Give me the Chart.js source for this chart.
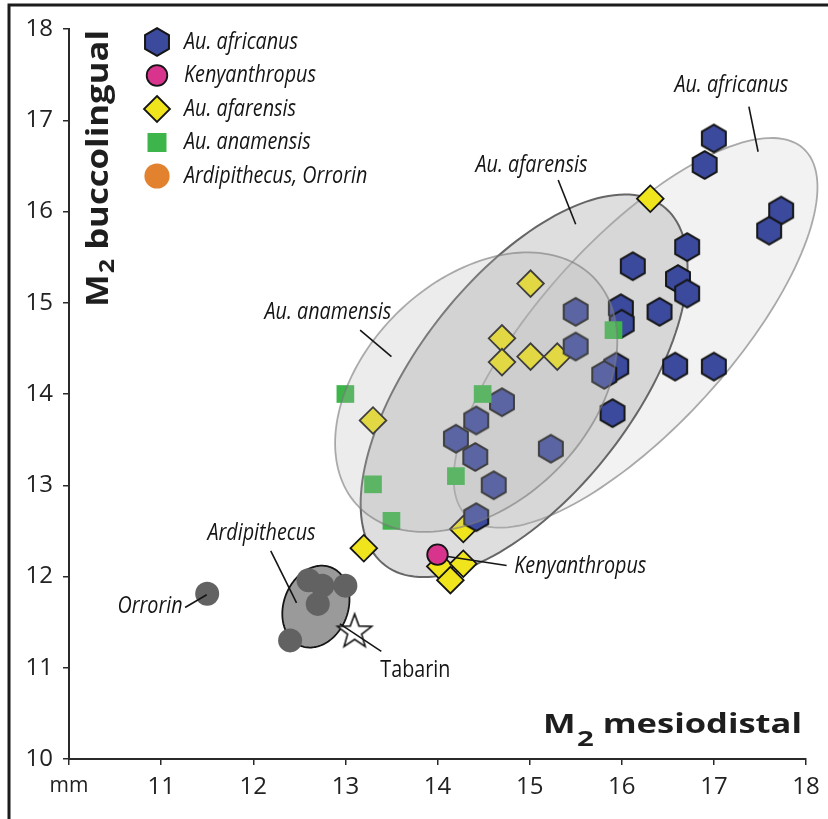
<!DOCTYPE html>
<html>
<head>
<meta charset="utf-8">
<title>M2 buccolingual vs mesiodistal</title>
<script src="https://cdn.jsdelivr.net/npm/chart.js@4.4.1/dist/chart.umd.min.js"></script>
<style>
  html, body { margin: 0; padding: 0; background: #fff; }
  #wrap { width: 828px; height: 819px; }
</style>
</head>
<body>
<div id="wrap"><canvas id="chart" width="828" height="819"></canvas></div>
<script>
// ==========================================
// VALUES (mm)
// ==========================================
const africanusX = [17.00, 16.90, 17.73, 17.60, 16.71, 16.12, 16.61, 16.71, 15.50, 15.99, 16.00, 16.41, 15.50,
                    15.94, 15.81, 16.58, 17.00, 14.70, 14.42, 14.20, 14.41, 15.23, 15.90, 14.61, 14.42];
const africanusY = [16.80, 16.51, 16.01, 15.79, 15.61, 15.40, 15.26, 15.10, 14.90, 14.94, 14.77, 14.90, 14.52,
                    14.30, 14.21, 14.30, 14.30, 13.91, 13.71, 13.51, 13.31, 13.40, 13.79, 13.00, 12.65];

const afarensisX = [16.31, 15.01, 14.70, 14.70, 15.01, 15.30, 13.30, 14.28, 13.20, 14.03, 14.28, 14.14];
const afarensisY = [16.14, 15.21, 14.61, 14.35, 14.41, 14.41, 13.71, 12.52, 12.31, 12.11, 12.14, 11.96];

const anamensisX = [13.00, 14.49, 13.30, 14.20, 13.50, 15.91];
const anamensisY = [14.00, 14.00, 13.01, 13.10, 12.61, 14.70];

const kenyanthropusX = [14.00];
const kenyanthropusY = [12.24];

// first point is Orrorin, the rest Ardipithecus
const ardiOrrorinX = [11.50, 12.60, 12.75, 13.00, 12.70, 12.40];
const ardiOrrorinY = [11.81, 11.96, 11.90, 11.90, 11.70, 11.30];

const tabarinX = [13.10];
const tabarinY = [11.41];

const xTickValues = [10, 11, 12, 13, 14, 15, 16, 17, 18];
const xTickLabels = ['mm', '11', '12', '13', '14', '15', '16', '17', '18'];
const yTickLabels = ['10', '11', '12', '13', '14', '15', '16', '17', '18'];

const legendLabels = ['Au. africanus', 'Kenyanthropus', 'Au. afarensis', 'Au. anamensis', 'Ardipithecus, Orrorin'];

// ==========================================
// RANGE ELLIPSES + CALLOUTS (data units)
// ==========================================
const ellipseAfricanus = { cx: 16.15, cy: 14.67, a: 2.72, b: 1.03, angle: 48 };
const ellipseAfarensis = { cx: 14.94, cy: 14.09, a: 2.48, b: 1.18, angle: 52.6 };
const ellipseAnamensis = { cx: 14.42, cy: 14.02, a: 1.79, b: 1.22, angle: 45 };
const ellipseArdi      = { cx: 12.68, cy: 11.67, a: 0.46, b: 0.35, angle: 70 };

const callouts = [
  { text: 'Au. africanus', x: 17.19, y: 17.386, line: [17.38, 17.15, 17.48, 16.655], italic: true },
  { text: 'Au. afarensis', x: 15.02, y: 16.51,  line: [15.31, 16.345, 15.50, 15.86], italic: true },
  { text: 'Au. anamensis', x: 12.81, y: 14.90,  line: [13.16, 14.70, 13.50, 14.41], italic: true },
  { text: 'Ardipithecus',  x: 12.09, y: 12.477, line: [12.19, 12.28, 12.47, 11.71], italic: true },
  { text: 'Orrorin',       x: 10.88, y: 11.68,  line: [11.26, 11.66, 11.495, 11.80], italic: true },
  { text: 'Kenyanthropus', x: 15.55, y: 12.11,  line: [14.11, 12.22, 14.75, 12.12], italic: true },
  { text: 'Tabarin',       x: 13.76, y: 10.975, line: [12.94, 11.48, 13.39, 11.18], italic: false }
];

const BLUE = '#3c4a9d';
const PINK = '#d8348d';
const YELLOW = '#f0e41c';
const GREEN = '#3db54a';
const ORANGE = '#e2822f';
const GREY_DOT = '#626262';
const INK = '#151515';
const LABEL_FONT = '"Open Sans", "Noto Sans", sans-serif';

function toPoints(xs, ys) {
  return xs.map((x, i) => ({ x: x, y: ys[i] }));
}

// hexagon marker (pointy top) as an image point style
function makeHexagon(r, fill) {
  const c = document.createElement('canvas');
  const s = Math.ceil(r * 2 + 4);
  c.width = s; c.height = s;
  const g = c.getContext('2d');
  g.beginPath();
  for (let k = 0; k < 6; k++) {
    const ang = -Math.PI / 2 + k * Math.PI / 3;
    const px = s / 2 + r * Math.cos(ang), py = s / 2 + r * Math.sin(ang);
    k ? g.lineTo(px, py) : g.moveTo(px, py);
  }
  g.closePath();
  g.fillStyle = fill;
  g.fill();
  g.lineWidth = 2;
  g.strokeStyle = INK;
  g.stroke();
  return c;
}

// five pointed open star
function makeStar(R, r) {
  const c = document.createElement('canvas');
  const s = Math.ceil(R * 2 + 4);
  c.width = s; c.height = s;
  const g = c.getContext('2d');
  const cy = s / 2 + R * 0.09;
  g.beginPath();
  for (let k = 0; k < 10; k++) {
    const ang = -Math.PI / 2 + k * Math.PI / 5;
    const rr = k % 2 ? r : R;
    const px = s / 2 + rr * Math.cos(ang), py = cy + rr * Math.sin(ang);
    k ? g.lineTo(px, py) : g.moveTo(px, py);
  }
  g.closePath();
  g.fillStyle = '#fff';
  g.fill();
  g.lineWidth = 1.6;
  g.strokeStyle = INK;
  g.stroke();
  return c;
}

const hexMarker = makeHexagon(13.8, BLUE);
const starMarker = makeStar(18, 7.4);

function ellipsePath(c, sx, sy, e) {
  const th = e.angle * Math.PI / 180;
  c.beginPath();
  for (let i = 0; i <= 160; i++) {
    const t = i / 160 * 2 * Math.PI;
    const dx = e.a * Math.cos(t), dy = e.b * Math.sin(t);
    const x = e.cx + dx * Math.cos(th) - dy * Math.sin(th);
    const y = e.cy + dx * Math.sin(th) + dy * Math.cos(th);
    const px = sx.getPixelForValue(x), py = sy.getPixelForValue(y);
    i ? c.lineTo(px, py) : c.moveTo(px, py);
  }
  c.closePath();
}

// narrow italic labels (the figure uses a condensed face)
let squeeze = null;
function labelFont(italic) {
  return (italic ? 'italic ' : '') + '24px ' + LABEL_FONT;
}
function drawLabel(c, text, x, y, italic, align) {
  c.save();
  if (squeeze === null) {
    c.font = labelFont(true);
    squeeze = 114 / c.measureText('Au. africanus').width;
  }
  c.font = labelFont(italic);
  c.translate(x, y);
  c.scale(squeeze, 1);
  c.textAlign = align || 'center';
  c.textBaseline = 'middle';
  c.fillStyle = INK;
  c.fillText(text, 0, 0);
  c.restore();
}

// "M" + subscript 2 + word, bold, squeezed to a target width; origin = left baseline
function drawAxisTitle(c, word, targetW, size, subScale, subDrop) {
  const font = s => 'bold ' + s + 'px ' + LABEL_FONT;
  c.font = font(size);
  const wM = c.measureText('M').width;
  const wSp = c.measureText(' ').width;
  const wWord = c.measureText(word).width;
  c.font = font(size * subScale);
  const w2 = c.measureText('2').width;
  const total = wM + 1 + w2 + wSp + wWord;
  const k = targetW / total;
  c.save();
  c.scale(k, 1);
  c.fillStyle = '#1e1e1e';
  c.textBaseline = 'alphabetic';
  c.textAlign = 'left';
  c.font = font(size);
  c.fillText('M', 0, 0);
  c.font = font(size * subScale);
  c.fillText('2', wM + 1, subDrop);
  c.font = font(size);
  c.fillText(word, wM + 1 + w2 + wSp, 0);
  c.restore();
}

const figurePlugin = {
  id: 'figure',
  beforeDraw(chart) {
    const c = chart.ctx;
    c.save();
    c.fillStyle = '#fff';
    c.fillRect(0, 0, chart.width, chart.height);
    c.strokeStyle = '#1c1c1c';
    c.lineWidth = 3;
    c.beginPath();
    c.moveTo(9, chart.height);
    c.lineTo(9, 5);
    c.lineTo(chart.width, 5);
    c.stroke();
    c.restore();
  },
  beforeDatasetsDraw(chart) {
    const c = chart.ctx, sx = chart.scales.x, sy = chart.scales.y;
    c.save();
    ellipsePath(c, sx, sy, ellipseAfricanus);
    c.fillStyle = '#f2f2f2';
    c.fill();
    ellipsePath(c, sx, sy, ellipseAfarensis);
    c.fillStyle = 'rgba(185,185,185,0.48)';
    c.fill();
    ellipsePath(c, sx, sy, ellipseAfricanus);
    c.strokeStyle = '#a9a9a9';
    c.lineWidth = 1.8;
    c.stroke();
    ellipsePath(c, sx, sy, ellipseAfarensis);
    c.strokeStyle = '#666';
    c.lineWidth = 2;
    c.stroke();
    ellipsePath(c, sx, sy, ellipseArdi);
    c.fillStyle = '#9a9a9a';
    c.fill();
    c.strokeStyle = INK;
    c.lineWidth = 1.8;
    c.stroke();
    c.restore();
  },
  afterDatasetsDraw(chart) {
    const c = chart.ctx, sx = chart.scales.x, sy = chart.scales.y;
    const area = chart.chartArea;
    c.save();
    // anamensis range sits over the markers, as in the figure
    ellipsePath(c, sx, sy, ellipseAnamensis);
    c.fillStyle = 'rgba(182,182,182,0.26)';
    c.fill();
    c.strokeStyle = 'rgba(120,120,120,0.6)';
    c.lineWidth = 1.8;
    c.stroke();

    // callouts
    callouts.forEach(o => {
      c.beginPath();
      c.moveTo(sx.getPixelForValue(o.line[0]), sy.getPixelForValue(o.line[1]));
      c.lineTo(sx.getPixelForValue(o.line[2]), sy.getPixelForValue(o.line[3]));
      c.strokeStyle = INK;
      c.lineWidth = 1.6;
      c.stroke();
      drawLabel(c, o.text, sx.getPixelForValue(o.x), sy.getPixelForValue(o.y), o.italic);
    });

    // legend, top left inside the plot
    const lx = area.left + 88, ly = area.top + 13, step = 33.5, tx = area.left + 115;
    legendLabels.forEach((name, i) => {
      const y = ly + i * step;
      c.save();
      if (i === 0) {
        c.drawImage(hexMarker, lx - hexMarker.width / 2, y - hexMarker.height / 2);
      } else if (i === 1) {
        c.beginPath(); c.arc(lx, y, 10.3, 0, Math.PI * 2);
        c.fillStyle = PINK; c.fill();
        c.strokeStyle = INK; c.lineWidth = 1.8; c.stroke();
      } else if (i === 2) {
        c.beginPath();
        c.moveTo(lx, y - 13); c.lineTo(lx + 13, y); c.lineTo(lx, y + 13); c.lineTo(lx - 13, y);
        c.closePath();
        c.fillStyle = YELLOW; c.fill();
        c.strokeStyle = INK; c.lineWidth = 1.8; c.stroke();
      } else if (i === 3) {
        c.fillStyle = GREEN;
        c.fillRect(lx - 9.5, y - 9.5, 19, 19);
      } else {
        c.beginPath(); c.arc(lx, y, 12.6, 0, Math.PI * 2);
        c.fillStyle = ORANGE; c.fill();
      }
      c.restore();
      drawLabel(c, name, tx, y, true, 'left');
    });

    // axis titles
    c.save();
    c.translate(543, 733);
    drawAxisTitle(c, 'mesiodistal', 259, 26, 0.85, 13);
    c.restore();
    c.save();
    c.translate(108, 307);
    c.rotate(-Math.PI / 2);
    drawAxisTitle(c, 'buccolingual', 277, 30, 0.72, 6);
    c.restore();
    c.restore();
  }
};

const axisInk = '#2a2a2a';

new Chart(document.getElementById('chart'), {
  type: 'scatter',
  data: {
    datasets: [
      { label: 'Kenyanthropus', data: toPoints(kenyanthropusX, kenyanthropusY), pointStyle: 'circle',
        pointRadius: 10.3, backgroundColor: PINK, borderColor: INK, borderWidth: 1.8 },
      { label: 'Au. anamensis', data: toPoints(anamensisX, anamensisY), pointStyle: 'rect',
        pointRadius: 12.5, backgroundColor: GREEN, borderWidth: 0 },
      { label: 'Au. africanus', data: toPoints(africanusX, africanusY), pointStyle: hexMarker,
        pointRadius: 14, backgroundColor: BLUE, borderColor: INK },
      { label: 'Au. afarensis', data: toPoints(afarensisX, afarensisY), pointStyle: 'rectRot',
        pointRadius: 13.3, backgroundColor: YELLOW, borderColor: INK, borderWidth: 1.8 },
      { label: 'Ardipithecus, Orrorin', data: toPoints(ardiOrrorinX, ardiOrrorinY), pointStyle: 'circle',
        pointRadius: 12, backgroundColor: GREY_DOT, borderWidth: 0 },
      { label: 'Tabarin', data: toPoints(tabarinX, tabarinY), pointStyle: starMarker, pointRadius: 18 }
    ]
  },
  options: {
    responsive: false,
    animation: false,
    events: [],
    layout: { padding: { left: 9, top: 29, right: 22, bottom: 0 } },
    plugins: { legend: { display: false }, tooltip: { enabled: false } },
    scales: {
      x: {
        type: 'linear', min: 10, max: 18,
        afterFit: s => { s.height = 60; },
        afterBuildTicks: s => { s.ticks = xTickValues.map(v => ({ value: v })); },
        ticks: {
          callback: (v, i) => xTickLabels[i],
          color: '#222', padding: 8, maxRotation: 0, autoSkip: false,
          font: ctx => ({ family: LABEL_FONT, size: ctx.tick && ctx.tick.value === 10 ? 21 : 24 })
        },
        grid: { drawOnChartArea: false, drawTicks: true, tickLength: 6, color: axisInk, lineWidth: 1.5 },
        border: { display: true, color: axisInk, width: 2 }
      },
      y: {
        type: 'linear', min: 10, max: 18,
        afterFit: s => { s.width = 60; },
        afterBuildTicks: s => { s.ticks = yTickLabels.map(t => ({ value: Number(t) })); },
        ticks: {
          callback: (v, i) => yTickLabels[i],
          color: '#222', padding: 10, autoSkip: false,
          font: { family: LABEL_FONT, size: 24 }
        },
        grid: { drawOnChartArea: false, drawTicks: true, tickLength: 6, color: axisInk, lineWidth: 1.5 },
        border: { display: true, color: axisInk, width: 2 }
      }
    }
  },
  plugins: [figurePlugin]
});
</script>
</body>
</html>
